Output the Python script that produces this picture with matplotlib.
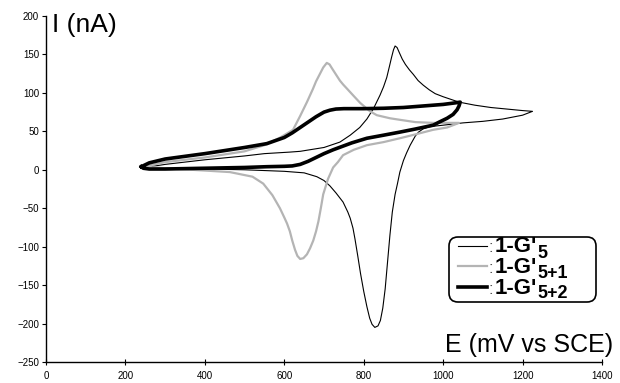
import matplotlib
matplotlib.use("Agg")
import matplotlib.pyplot as plt
from matplotlib.lines import Line2D
from matplotlib.patches import FancyBboxPatch
from matplotlib.text import Annotation
from matplotlib.transforms import IdentityTransform

plt.rcParams["font.family"] = ["Liberation Sans", "DejaVu Sans"]

# 1-G'5 : thin black cycle (forward scan then reverse scan)
e_g5 = [250, 300, 400, 500, 550, 614, 640, 700, 740, 766, 790, 808, 825, 841, 850, 858, 865,
        870, 875, 879, 884, 890, 897, 905, 915, 925, 937, 950, 965, 980, 1000, 1040, 1080,
        1120, 1160, 1200, 1225,
        1200, 1150, 1100, 1050, 1000, 965, 949, 938, 930, 917, 908, 900, 891, 885, 879, 872,
        866, 860, 854, 848, 842, 836, 828, 821, 815, 808, 800, 792, 785, 778, 773, 766, 760,
        748, 730, 715, 700, 682, 650, 600, 500, 400, 300, 250]
i_g5 = [3, 7, 13, 18, 21, 23, 24, 29, 36, 45, 55, 66, 80, 97, 108, 120, 135,
        146, 156, 161, 159, 152, 144, 137, 130, 124, 116, 110, 104, 99, 95, 88, 84,
        81, 79, 77, 76,
        71, 66, 63, 61, 58, 56, 53, 49, 44, 32, 22, 12, -3, -18, -32, -55,
        -85, -120, -155, -180, -196, -203, -205, -201, -193, -178, -158, -135, -112, -90, -76, -63, -55,
        -42, -30, -21, -14, -9, -4, -2, 0, 1, 2, 3]

# 1-G'5+1 : grey cycle
e_g51 = [245, 300, 400, 500, 550, 590, 622, 640, 657, 672, 680, 690, 698, 707, 714, 720, 730,
         740, 748, 757, 773, 791, 816, 833, 866, 891, 930, 975, 1040,
         1010, 975, 930, 891, 850, 808, 775, 748, 735, 723, 710, 698, 692, 686, 680, 673, 665,
         657, 648, 640, 633, 627, 620, 614, 607, 600, 589, 570, 547, 520, 463, 400, 300, 245]
i_g51 = [4, 10, 16, 24, 32, 42, 52, 70, 88, 105, 115, 125, 133, 139, 137, 132, 124,
         116, 111, 106, 97, 87, 76, 71, 67, 65, 62, 61, 61,
         55, 52, 46, 41, 36, 32, 26, 19, 10, 3, -12, -32, -50, -67, -80, -92, -102,
         -110, -115, -116, -112, -104, -92, -80, -70, -62, -50, -33, -18, -9, -3, -1, 2, 4]

# 1-G'5+2 : thick black cycle
e_g52 = [240, 260, 300, 400, 500, 556, 600, 620, 640, 660, 680, 700, 715, 730, 750, 800, 850,
         900, 950, 1000, 1030, 1043,
         1040, 1035, 1025, 1010, 990, 975, 930, 891, 850, 808, 770, 723, 700, 680, 660, 640,
         620, 600, 556, 500, 400, 300, 260, 245, 240]
i_g52 = [4, 9, 14, 21, 29, 34, 42, 48, 55, 62, 69, 75, 77.5, 79, 79.5, 79.5, 80,
         81, 83, 85, 87, 88,
         83, 78, 72, 67, 62, 58, 53, 49, 45, 41, 35, 26, 21, 16, 11, 7,
         5, 4.5, 4, 3, 2, 1, 1, 2, 4]

legend_names = ["1-G'", "1-G'", "1-G'"]
legend_subs = ["5", "5+1", "5+2"]
x_ticks = [0, 200, 400, 600, 800, 1000, 1200, 1400]
y_ticks = [-250, -200, -150, -100, -50, 0, 50, 100, 150, 200]

W, H = 620, 383
fig = plt.figure(figsize=(W / 100, H / 100), dpi=100)
ax = fig.add_axes([46 / W, 1 - 362 / H, 556 / W, 346 / H])

l1, = ax.plot(e_g5, i_g5, color="black", lw=0.8)
l2, = ax.plot(e_g51, i_g51, color="#b4b4b4", lw=1.6)
l3, = ax.plot(e_g52, i_g52, color="black", lw=2.6)

ax.set_xlim(0, 1400)
ax.set_ylim(-250, 200)
ax.set_xticks(x_ticks)
ax.set_yticks(y_ticks)
ax.tick_params(axis="x", direction="inout", length=5, width=0.8, labelsize=7, pad=4)
ax.tick_params(axis="y", direction="out", length=3, width=0.8, labelsize=7, pad=2)
for side in ["top", "right"]:
    ax.spines[side].set_visible(False)
for side in ["left", "bottom"]:
    ax.spines[side].set_linewidth(1.0)

fig.text(52 / W, 1 - 13 / H, "I (nA)", fontsize=19, ha="left", va="top")
fig.text(613 / W, 1 - 352 / H, "E (mV vs SCE)", fontsize=18, ha="right", va="baseline")

# legend box drawn by hand (rounded frame, handle, colon, name + subscript)
frame = FancyBboxPatch((449, H - 302), 147, 65, boxstyle="round,pad=0,rounding_size=9",
                       transform=IdentityTransform(), facecolor="white", edgecolor="black",
                       lw=1.2, zorder=5)
fig.add_artist(frame)
for k, (line, name, sub) in enumerate(zip([l1, l2, l3], legend_names, legend_subs)):
    base = 252.5 + k * 20.5
    fig.add_artist(Line2D([458 / W, 487 / W], [1 - (base - 7) / H] * 2,
                          transform=fig.transFigure, color=line.get_color(),
                          lw=line.get_linewidth(), zorder=6))
    fig.text(488.5 / W, 1 - base / H, ":", fontsize=12, color="#555555",
             va="baseline", zorder=6)
    t = fig.text(495 / W, 1 - base / H, name, fontsize=16, weight="bold",
                 va="baseline", zorder=6)
    s = Annotation(sub, xy=(1, 0), xycoords=t, xytext=(0.3, 0), textcoords="offset points",
                   fontsize=13, weight="bold", va="baseline", ha="left",
                   annotation_clip=False)
    s.set_zorder(7)
    fig.add_artist(s)

fig.savefig("out.png", dpi=100)
